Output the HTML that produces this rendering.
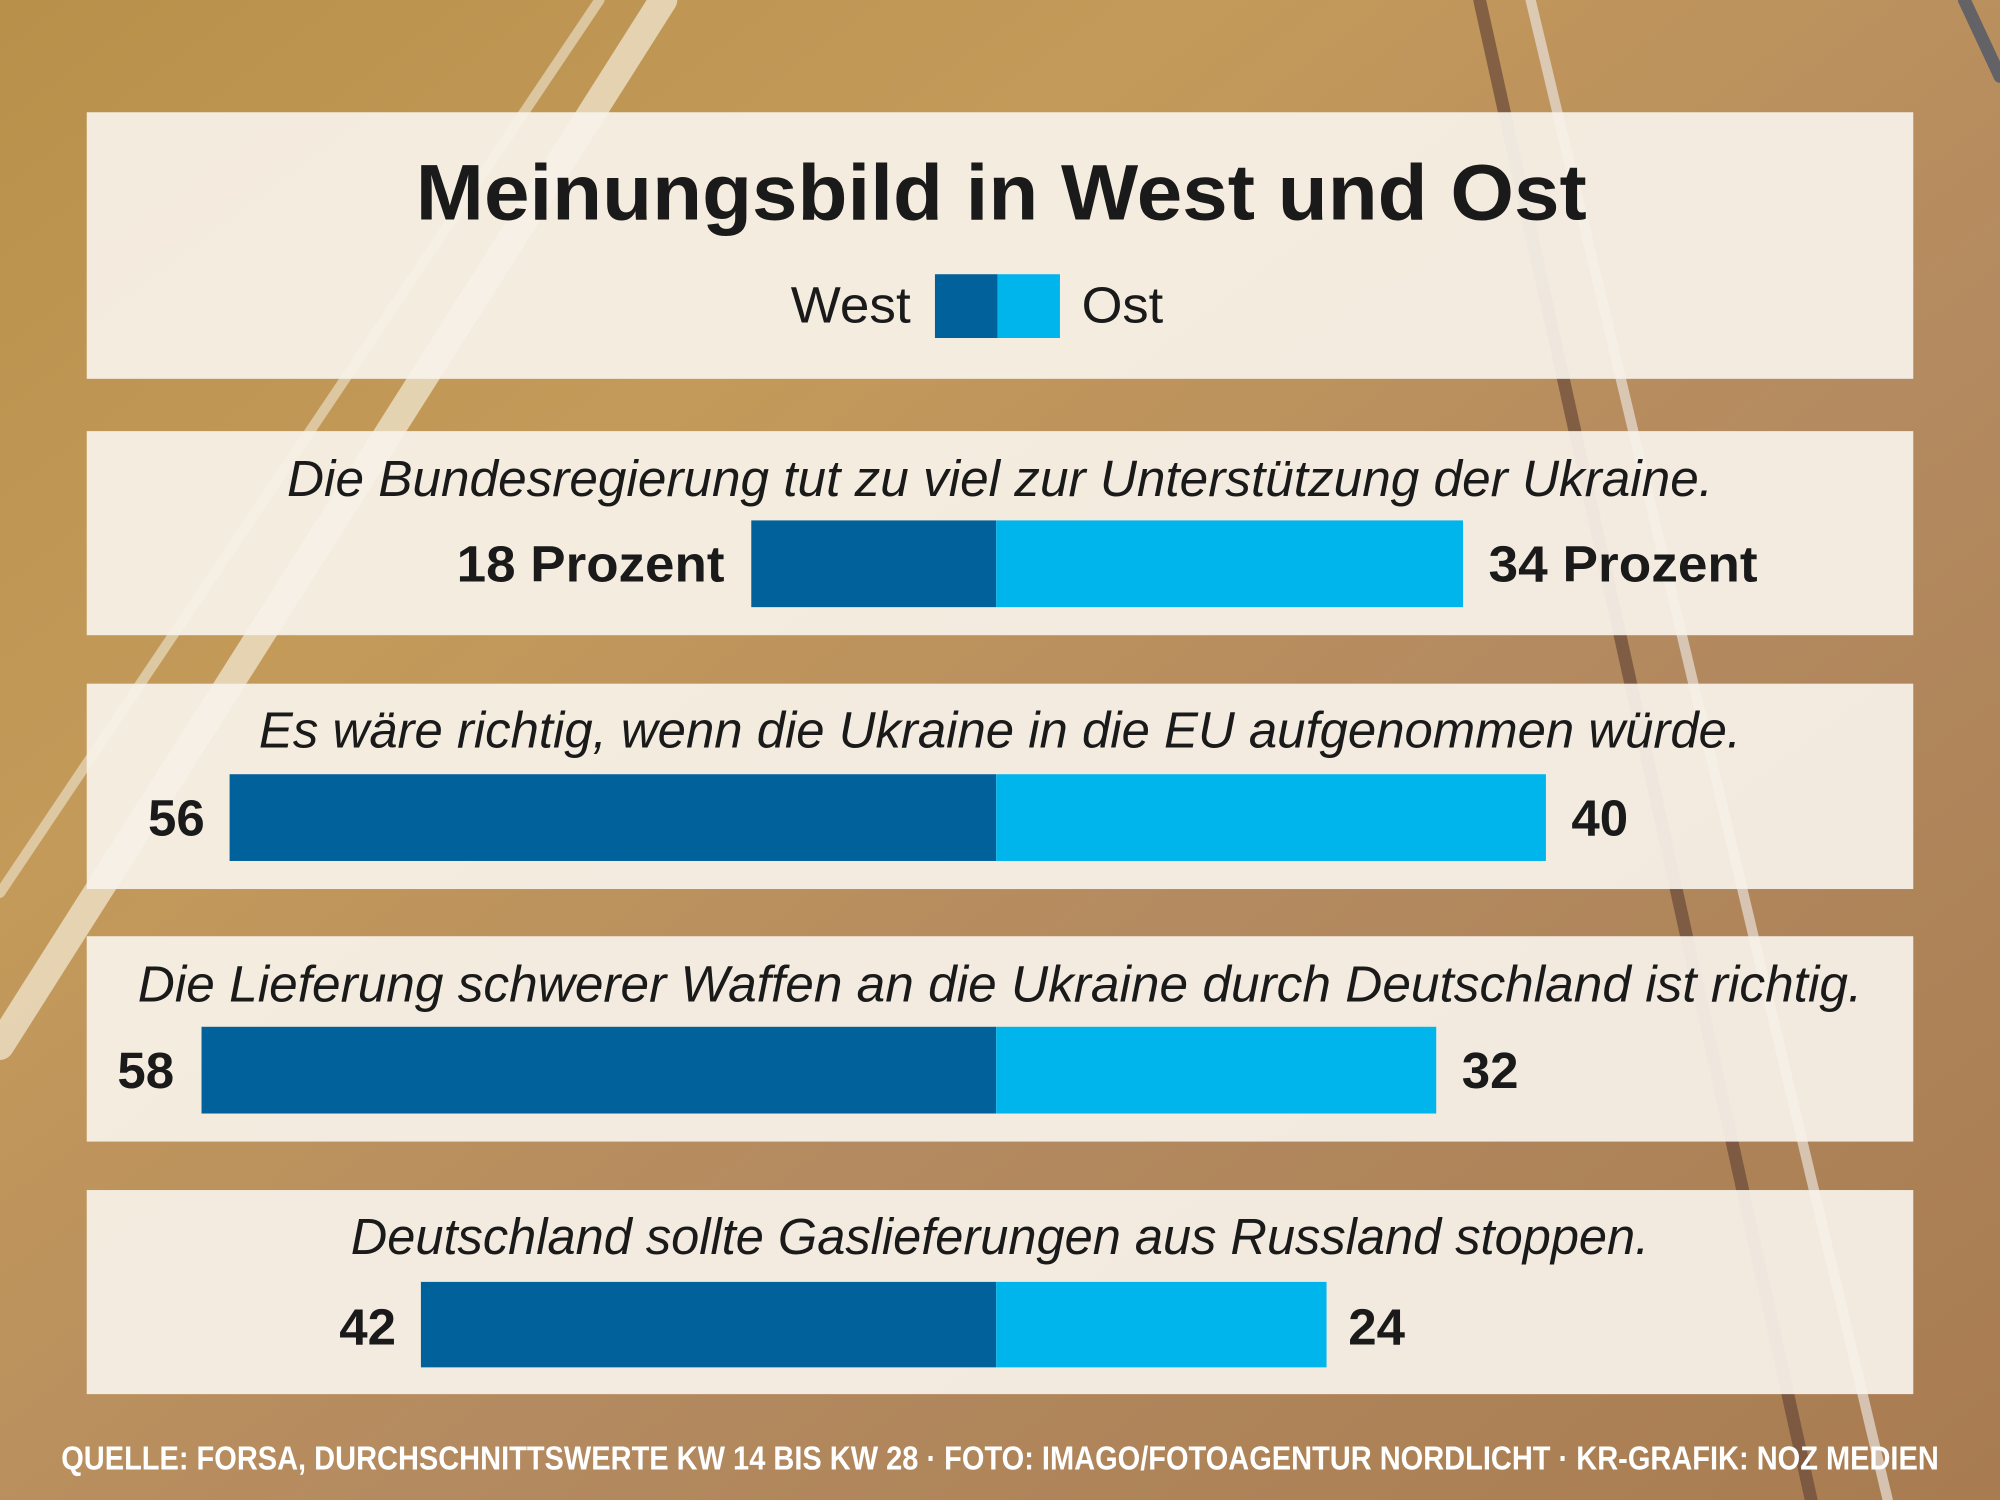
<!DOCTYPE html>
<html><head><meta charset="utf-8"><style>
html,body{margin:0;padding:0;width:2000px;height:1500px;overflow:hidden}
svg{display:block}
text{font-family:"Liberation Sans",sans-serif}
</style></head><body>
<svg width="2000" height="1500" viewBox="0 0 1568 1176" preserveAspectRatio="none">
<defs>
<linearGradient id="bg" x1="0" y1="0" x2="1" y2="1">
<stop offset="0" stop-color="#b8904a"/>
<stop offset="0.3" stop-color="#c49a5a"/>
<stop offset="0.6" stop-color="#b48a60"/>
<stop offset="1" stop-color="#a87c50"/>
</linearGradient>
</defs>
<rect width="1568" height="1176" fill="url(#bg)"/>
<g stroke-linecap="round" opacity="0.7">
<line x1="520" y1="0" x2="0" y2="820" stroke="#f4ecd8" stroke-width="22"/>
<line x1="470" y1="0" x2="0" y2="700" stroke="#e8dcc0" stroke-width="8"/>
<line x1="1160" y1="0" x2="1420" y2="1176" stroke="#6a4a3a" stroke-width="10"/>
<line x1="1200" y1="0" x2="1480" y2="1176" stroke="#e8e0d8" stroke-width="8"/>
<line x1="1540" y1="0" x2="1568" y2="60" stroke="#40506a" stroke-width="10"/>
</g>
<g fill="#f8f2ea" fill-opacity="0.93">
<rect x="68" y="88" width="1432" height="209"/>
<rect x="68" y="338" width="1432" height="160"/>
<rect x="68" y="536" width="1432" height="161"/>
<rect x="68" y="734" width="1432" height="161"/>
<rect x="68" y="933" width="1432" height="160"/>
</g>
<g fill="#1a1a1a">
<text x="326" y="172" font-size="62" font-weight="bold" textLength="918" lengthAdjust="spacingAndGlyphs">Meinungsbild in West und Ost</text>
<text x="620" y="253" font-size="40" textLength="94" lengthAdjust="spacingAndGlyphs">West</text>
<text x="848" y="253" font-size="40" textLength="64" lengthAdjust="spacingAndGlyphs">Ost</text>
</g>
<rect x="733" y="215" width="49" height="50" fill="#00619b"/>
<rect x="782" y="215" width="49" height="50" fill="#00b4ec"/>
<g fill="#1a1a1a" font-style="italic" font-size="40">
<text x="225" y="389" textLength="1118" lengthAdjust="spacingAndGlyphs">Die Bundesregierung tut zu viel zur Unterstützung der Ukraine.</text>
<text x="203" y="586" textLength="1162" lengthAdjust="spacingAndGlyphs">Es wäre richtig, wenn die Ukraine in die EU aufgenommen würde.</text>
<text x="108" y="785" textLength="1352" lengthAdjust="spacingAndGlyphs">Die Lieferung schwerer Waffen an die Ukraine durch Deutschland ist richtig.</text>
<text x="275" y="983" textLength="1018" lengthAdjust="spacingAndGlyphs">Deutschland sollte Gaslieferungen aus Russland stoppen.</text>
</g>
<g fill="#00619b">
<rect x="589" y="408" width="192" height="68"/>
<rect x="180" y="607" width="601" height="68"/>
<rect x="158" y="805" width="623" height="68"/>
<rect x="330" y="1005" width="451" height="67"/>
</g>
<g fill="#00b4ec">
<rect x="781" y="408" width="366" height="68"/>
<rect x="781" y="607" width="431" height="68"/>
<rect x="781" y="805" width="345" height="68"/>
<rect x="781" y="1005" width="259" height="67"/>
</g>
<g fill="#1a1a1a" font-weight="bold" font-size="40">
<text x="358" y="456" textLength="210" lengthAdjust="spacingAndGlyphs">18 Prozent</text>
<text x="1167" y="456" textLength="211" lengthAdjust="spacingAndGlyphs">34 Prozent</text>
<text x="116" y="655">56</text>
<text x="1232" y="655">40</text>
<text x="92" y="853">58</text>
<text x="1146" y="853">32</text>
<text x="266" y="1054">42</text>
<text x="1057" y="1054">24</text>
</g>
<text x="48" y="1152" font-size="26" font-weight="bold" fill="#ffffff" textLength="1472" lengthAdjust="spacingAndGlyphs">QUELLE: FORSA, DURCHSCHNITTSWERTE KW 14 BIS KW 28  · FOTO: IMAGO/FOTOAGENTUR NORDLICHT · KR-GRAFIK: NOZ MEDIEN</text>
</svg>
</body></html>
